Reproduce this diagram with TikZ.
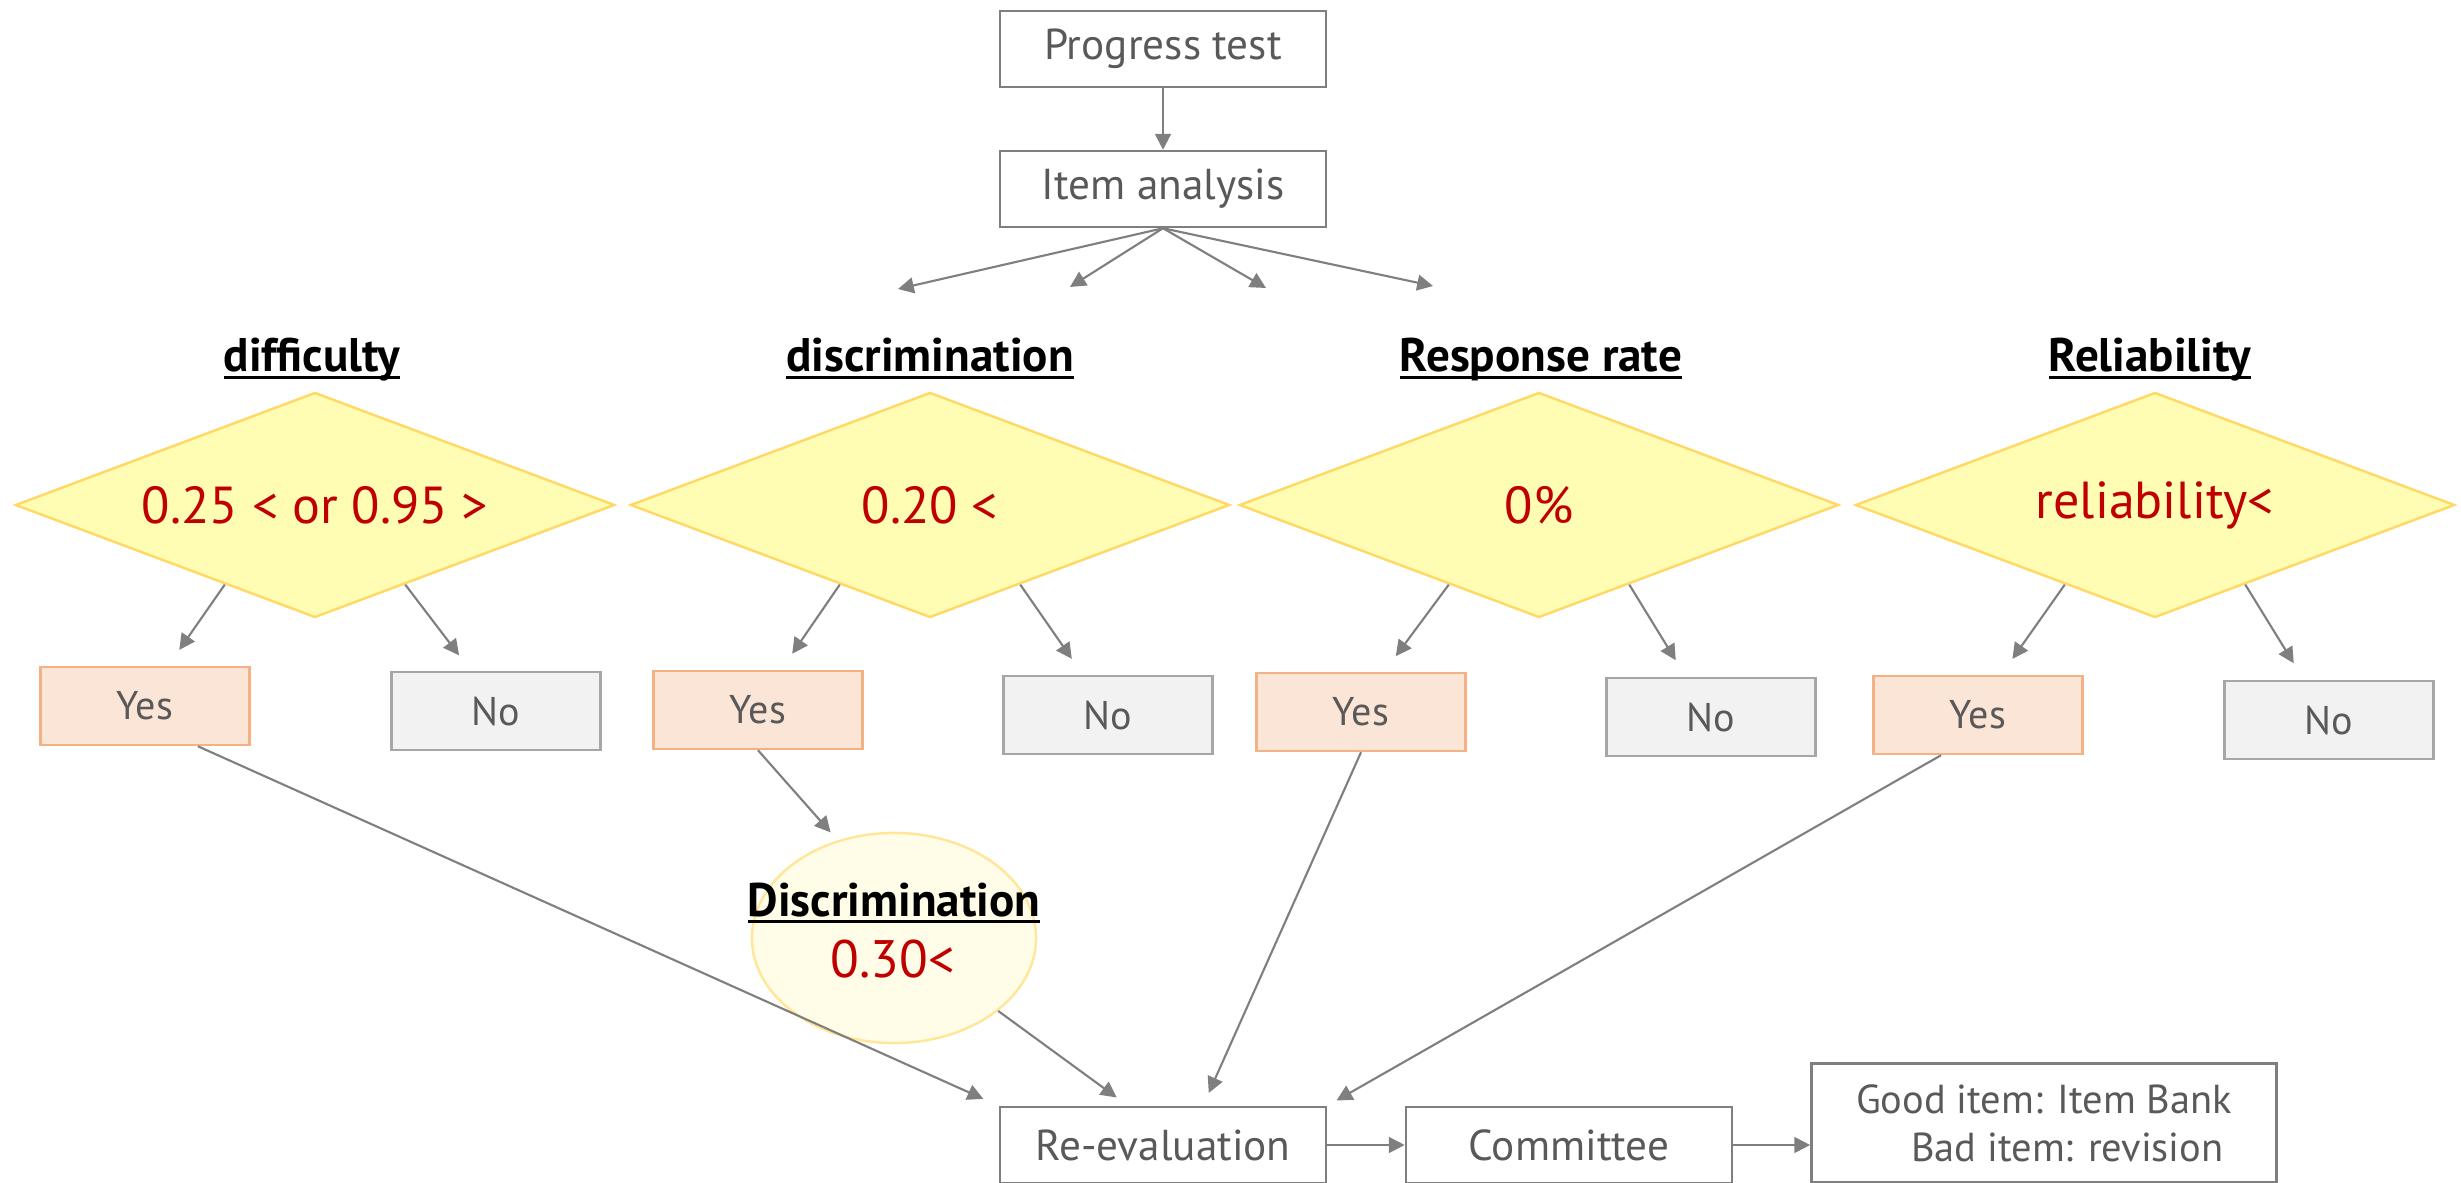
\documentclass[tikz,border=0pt]{standalone}
\usepackage{fontspec}
\setmainfont{PT Sans}
\usetikzlibrary{arrows.meta,calc,shapes.geometric}

\definecolor{linegray}{HTML}{7F7F7F}
\definecolor{textgray}{HTML}{595959}
\definecolor{yesfill}{HTML}{FBE5D6}
\definecolor{yesdraw}{HTML}{F4B183}
\definecolor{nofill}{HTML}{F2F2F2}
\definecolor{nodraw}{HTML}{A6A6A6}
\definecolor{condfill}{HTML}{FFFCB4}
\definecolor{conddraw}{HTML}{FFD966}
\definecolor{ellfill}{HTML}{FFFDE8}
\definecolor{elldraw}{HTML}{FFE699}
\definecolor{condred}{HTML}{C00000}

\newcommand{\ulhead}[1]{\setbox0\hbox{#1}\leavevmode\rlap{\copy0}\rlap{\vrule height -1.1pt depth 2.0pt width\wd0}\kern\wd0}

\tikzset{
  box/.style={draw=linegray, line width=0.7pt, minimum width=3.26cm, minimum height=0.76cm, inner sep=0pt, text=textgray, font=\fontsize{12.3}{14}\selectfont},
  yesbox/.style={box, draw=yesdraw, fill=yesfill, minimum width=2.09cm, minimum height=0.78cm, font=\fontsize{11.4}{13}\selectfont},
  nobox/.style={yesbox, draw=nodraw, fill=nofill},
  cond/.style={diamond, aspect=2.66, draw=conddraw, fill=condfill, line width=0.7pt, minimum width=5.99cm, minimum height=2.25cm, inner sep=0pt, text=condred, font=\fontsize{14.8}{16}\selectfont},
  heading/.style={anchor=base, inner sep=0pt, font=\bfseries\fontsize{13.4}{15}\selectfont},
  arr/.style={draw=linegray, line width=0.6pt, -{Triangle[length=4.5pt,width=4.5pt]}},
}

\begin{document}
\begin{tikzpicture}[x=0.01cm, y=-0.01cm]
			\useasboundingbox (0,0) rectangle (2461,1183);
			
			% top
			\node[box] (pt) at (1163,49) {Progress test};
			\node[box] (ia) at (1163,189) {Item analysis};
			\draw[arr] (pt) -- (ia);
			
			\coordinate (c1) at (898,289);
			\coordinate (c2) at (1070,287);
			\coordinate (c3) at (1266,288);
			\coordinate (c4) at (1433,286);
			\draw[arr] (ia.south) -- (c1);
			\draw[arr] (ia.south) -- (c2);
			\draw[arr] (ia.south) -- (c3);
			\draw[arr] (ia.south) -- (c4);
			
			% criteria
			\node[heading] (h1) at (312,372) {\ulhead{difficulty}};
			\node[heading] (h2) at (930,372) {\ulhead{discrimination}};
			\node[heading] (h3) at (1541,372) {\ulhead{Response rate}};
			\node[heading] (h4) at (2150,372) {\ulhead{Reliability}};
			
			\node[cond] (d1) at (315,505) {0.25 < or 0.95 >};
			\node[cond] (d2) at (930,505) {0.20 <};
			\node[cond] (d3) at (1539,505) {0\%};
			\node[cond] (d4) at (2155,505) {reliability<};
			
			\node[yesbox] (y1) at (145,706) {Yes};
			\node[nobox] (n1) at (496,711) {No};
			\node[yesbox] (y2) at (758,710) {Yes};
			\node[nobox] (n2) at (1108,715) {No};
			\node[yesbox] (y3) at (1361,712) {Yes};
			\node[nobox] (n3) at (1711,717) {No};
			\node[yesbox] (y4) at (1978,715) {Yes};
			\node[nobox] (n4) at (2329,720) {No};
			
			\draw[arr, shorten >=5.5pt] ($(d1.south)!.3!(d1.west)$) -- (y1.60);
			\draw[arr, shorten >=5.5pt] ($(d1.south)!.3!(d1.east)$) -- (n1.122);
			\draw[arr, shorten >=5.5pt] ($(d2.south)!.3!(d2.west)$) -- (y2.60);
			\draw[arr, shorten >=5.5pt] ($(d2.south)!.3!(d2.east)$) -- (n2.122);
			\draw[arr, shorten >=5.5pt] ($(d3.south)!.3!(d3.west)$) -- (y3.60);
			\draw[arr, shorten >=5.5pt] ($(d3.south)!.3!(d3.east)$) -- (n3.122);
			\draw[arr, shorten >=5.5pt] ($(d4.south)!.3!(d4.west)$) -- (y4.60);
			\draw[arr, shorten >=5.5pt] ($(d4.south)!.3!(d4.east)$) -- (n4.122);
			
			% second check
			\node[ellipse, draw=elldraw, fill=ellfill, line width=0.7pt, minimum width=2.84cm, minimum height=2.1cm, inner sep=0pt] (disc) at (894,938) {};
			\node[heading] (dtitle) at (894,916) {\ulhead{Discrimination}};
			\node[anchor=base, inner sep=0pt, text=condred, font=\fontsize{15}{16}\selectfont] (dval) at (893,977) {0.30<};
			\draw[arr, shorten >=3pt] (y2.south) -- (disc.120);
			
			% bottom
			\node[box] (re) at (1163,1145) {Re-evaluation};
			\node[box] (cm) at (1569,1145) {Committee};
			\node[box, minimum width=4.65cm, minimum height=1.19cm, align=left, font=\fontsize{11.5}{13.7}\selectfont] (fin) at (2044,1123) {Good item: Item Bank\\\hspace*{0.55cm}Bad item: revision};
			
			\draw[arr, shorten >=4.8pt] ($(y1.south)!.5!(y1.south east)$) -- (re.north west);
			\draw[arr, shorten >=4pt] (disc.-35) -- ($(re.north)+(-35,0)$);
			\draw[arr, shorten >=4pt] (y3.south) -- ($(re.north)+(40,0)$);
			\draw[arr, shorten >=3pt] ($(y4.south)!.35!(y4.south west)$) -- (re.north east);
			\draw[arr] (re) -- (cm);
			\draw[arr] (cm.east) -- (cm.east -| fin.west);
			
\end{tikzpicture}
\end{document}
